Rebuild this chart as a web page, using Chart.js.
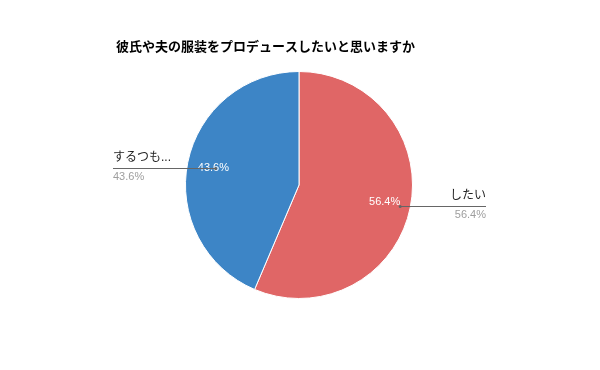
<!DOCTYPE html>
<html>
<head>
<meta charset="utf-8">
<script src="https://cdn.jsdelivr.net/npm/chart.js@4"></script>
<style>
  html, body { margin: 0; padding: 0; background: #fff; }
  #wrap { width: 600px; height: 370px; }
</style>
</head>
<body>
<div id="wrap"><canvas id="pie_chart" width="600" height="370"></canvas></div>
<script>
var chartTitle = '彼氏や夫の服装をプロデュースしたいと思いますか';
var categories = ['したい', 'するつもりはない'];
var shortLabels = ['したい', 'するつも...'];
var values = [56.4, 43.6];
var sliceColors = ['#e06666', '#3d85c6'];

var FONT = 'Arial, "Liberation Sans", "Noto Sans CJK JP", sans-serif';

// draws the title, in-slice percentages and the side labels with leader lines
var labelPlugin = {
    id: 'labelPlugin',
    afterDatasetsDraw: function(chart) {
        var ctx = chart.ctx;
        var meta = chart.getDatasetMeta(0);
        var total = values.reduce(function(a, b) { return a + b; }, 0);
        ctx.save();

        ctx.fillStyle = '#000';
        ctx.font = 'bold 13px ' + FONT;
        ctx.textBaseline = 'middle';
        ctx.textAlign = 'left';
        ctx.fillText(chartTitle, 116, 47);

        meta.data.forEach(function(arc, i) {
            var mid = (arc.startAngle + arc.endAngle) / 2;
            var r = arc.outerRadius;
            var cx = arc.x, cy = arc.y;
            var pct = (values[i] / total * 100).toFixed(1) + '%';
            var right = Math.cos(mid) >= 0;

            var tx = cx + Math.cos(mid) * r * 0.77;
            var ty = cy + Math.sin(mid) * r * 0.77;
            ctx.font = '11px ' + FONT;
            ctx.fillStyle = '#fff';
            ctx.textAlign = 'center';
            ctx.fillText(pct, tx, ty);

            // leader line
            var sf = right ? 0.91 : 0.75;
            var sx = cx + Math.cos(mid) * r * sf;
            var sy = cy + Math.sin(mid) * r * sf;
            var ex = right ? 486 : 113;
            ctx.strokeStyle = '#666';
            ctx.lineWidth = 1;
            ctx.beginPath();
            ctx.moveTo(sx, Math.round(sy) + 0.5);
            ctx.lineTo(ex, Math.round(sy) + 0.5);
            ctx.stroke();
            ctx.fillStyle = '#666';
            ctx.beginPath();
            ctx.arc(sx, Math.round(sy) + 0.5, 1.5, 0, Math.PI * 2);
            ctx.fill();

            ctx.textAlign = right ? 'right' : 'left';
            ctx.font = '12px ' + FONT;
            ctx.fillStyle = '#222';
            ctx.fillText(shortLabels[i], ex, sy - 10);
            ctx.font = '11px ' + FONT;
            ctx.fillStyle = '#9e9e9e';
            ctx.fillText(pct, ex, sy + 9);
        });
        ctx.restore();
    }
};

var pie_chart = new Chart(document.getElementById('pie_chart'), {
    type: 'pie',
    data: {
        labels: categories,
        datasets: [{
            data: values,
            backgroundColor: sliceColors,
            borderColor: '#fff',
            borderWidth: 1
        }]
    },
    options: {
        responsive: false,
        animation: false,
        layout: {
            padding: { top: 71, bottom: 71, left: 185, right: 187 }
        },
        plugins: {
            legend: { display: false },
            tooltip: { enabled: false }
        }
    },
    plugins: [labelPlugin]
});
</script>
</body>
</html>
